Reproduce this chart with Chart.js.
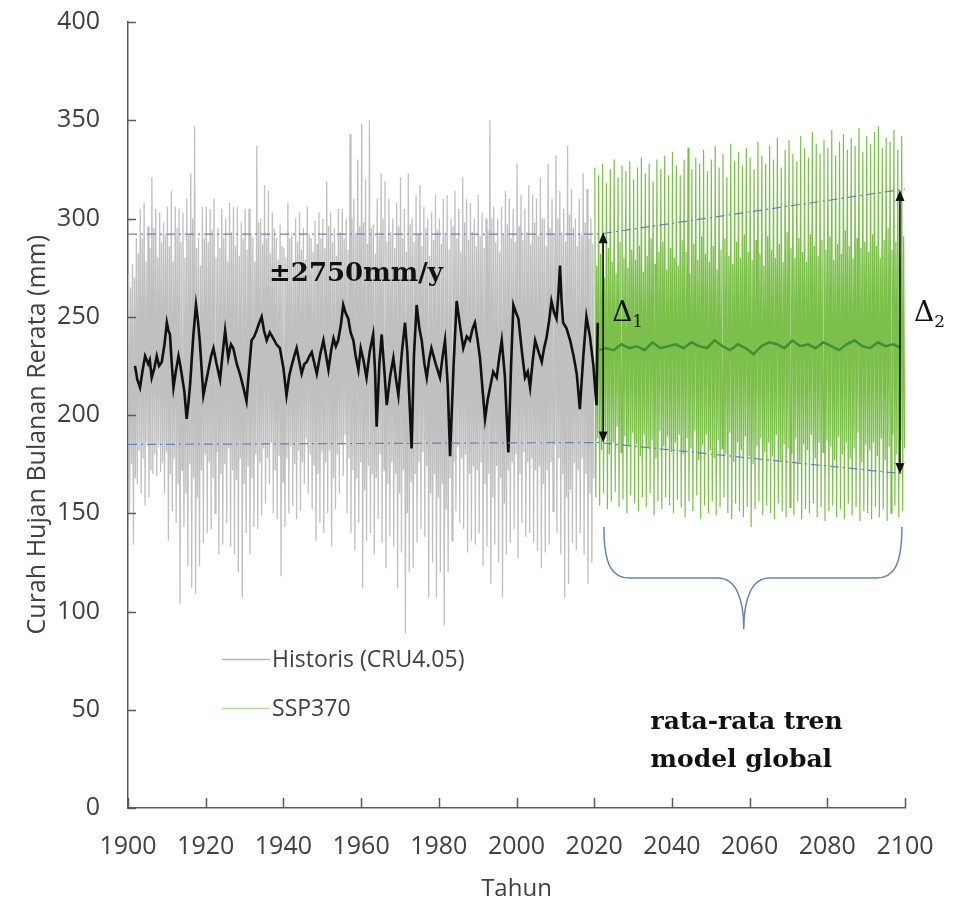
<!DOCTYPE html>
<html>
<head>
<meta charset="utf-8">
<script src="https://cdn.jsdelivr.net/npm/chart.js@4.4.1/dist/chart.umd.min.js"></script>
<style>
  html, body { margin: 0; padding: 0; background: #fff; }
</style>
</head>
<body>
<canvas id="myChart" width="953" height="904"></canvas>
<script>
'use strict';

// historical CRU monthly rainfall (1901-2020)
// each year: main peak / trough, then a second smaller peak / trough
var histFirstYear = 1901;
var histHigh = [
  272, 277, 290, 305, 308, 296, 321, 305, 303, 298,
  306, 314, 306, 305, 303, 310, 323, 347, 290, 306,
  306, 305, 310, 295, 305, 300, 308, 306, 306, 298,
  305, 305, 290, 337, 300, 317, 314, 303, 290, 297,
  285, 308, 292, 300, 303, 295, 306, 290, 299, 303,
  300, 319, 303, 295, 305, 305, 300, 343, 310, 330,
  348, 320, 350, 297, 310, 323, 319, 310, 300, 308,
  321, 305, 323, 300, 312, 317, 306, 300, 303, 312,
  300, 310, 312, 300, 314, 305, 321, 310, 308, 300,
  312, 303, 300, 350, 306, 300, 306, 314, 310, 305,
  328, 312, 305, 317, 312, 310, 321, 300, 328, 310,
  332, 314, 305, 337, 315, 300, 310, 323, 315, 300
];
var histLow = [
  150, 134, 165, 160, 154, 158, 170, 169, 171, 160,
  136, 151, 145, 104, 143, 123, 112, 109, 123, 135,
  140, 142, 150, 129, 134, 145, 133, 129, 120, 107,
  140, 129, 143, 142, 149, 155, 165, 150, 147, 118,
  143, 150, 154, 147, 151, 165, 160, 152, 136, 145,
  140, 150, 133, 152, 160, 169, 150, 140, 131, 145,
  112, 136, 140, 129, 147, 135, 122, 138, 133, 112,
  130, 89, 120, 122, 135, 142, 138, 107, 125, 107,
  120, 93, 120, 136, 151, 145, 142, 130, 136, 134,
  140, 123, 133, 114, 134, 125, 107, 129, 135, 142,
  127, 145, 138, 140, 135, 131, 122, 130, 134, 151,
  140, 129, 107, 114, 135, 131, 140, 129, 114, 125
];
var histHigh2 = [
  265, 270, 282, 290, 278, 285, 295, 280, 288, 292,
  286, 278, 295, 288, 280, 292, 300, 285, 276, 290,
  288, 294, 280, 285, 290, 278, 293, 286, 281, 290,
  284, 292, 278, 298, 287, 290, 282, 295, 279, 286,
  280, 290, 276, 288, 284, 279, 292, 283, 287, 290,
  285, 296, 288, 281, 293, 290, 284, 300, 292, 296,
  298, 287, 295, 282, 291, 300, 288, 293, 285, 296,
  290, 283, 297, 288, 292, 286, 295, 281, 289, 294,
  287, 292, 284, 296, 290, 283, 298, 289, 293, 286,
  291, 285, 294, 300, 288, 283, 292, 297, 290, 288,
  296, 289, 293, 287, 298, 291, 300, 286, 295, 292,
  300, 293, 288, 302, 295, 286, 292, 298, 290, 287
];
var histLow2 = [
  175, 168, 182, 178, 186, 172, 180, 184, 176, 181,
  170, 178, 165, 172, 160, 175, 168, 158, 172, 180,
  176, 168, 181, 170, 175, 183, 172, 167, 178, 165,
  174, 168, 180, 176, 183, 178, 186, 172, 179, 166,
  178, 184, 175, 182, 176, 188, 180, 174, 170, 181,
  176, 182, 168, 180, 185, 190, 178, 172, 168, 176,
  162, 174, 170, 168, 180, 172, 165, 176, 170, 160,
  172, 150, 166, 170, 176, 181, 174, 160, 170, 158,
  165, 152, 168, 176, 184, 178, 180, 170, 174, 172,
  176, 165, 170, 158, 174, 168, 155, 172, 176, 180,
  170, 181, 176, 178, 172, 174, 165, 172, 176, 185,
  178, 170, 158, 162, 176, 172, 178, 170, 160, 168
];

// black running mean of the historical series
var histMeanYears = [
  1901.8, 1902.4, 1903.1, 1903.7, 1904.4, 1905.2, 1905.6, 1906.1, 1906.8, 1907.4,
  1908.0, 1908.7, 1909.4, 1910.0, 1910.4, 1910.8, 1911.2, 1911.7, 1912.3, 1913.0,
  1913.4, 1913.8, 1914.5, 1915.1, 1915.6, 1916.0, 1916.8, 1917.5, 1918.0, 1918.5,
  1919.0, 1919.4, 1920.0, 1920.7, 1921.4, 1922.0, 1922.8, 1923.7, 1924.4, 1925.0,
  1925.8, 1926.5, 1927.1, 1928.0, 1928.8, 1929.7, 1930.5, 1931.2, 1931.8, 1932.5,
  1933.1, 1933.8, 1934.4, 1935.0, 1935.7, 1936.5, 1937.4, 1938.2, 1939.1, 1940.0,
  1940.8, 1941.5, 1942.1, 1942.8, 1943.4, 1944.0, 1944.7, 1945.4, 1946.0, 1946.7,
  1947.3, 1948.0, 1948.6, 1949.5, 1950.3, 1951.0, 1951.6, 1952.3, 1952.9, 1953.5,
  1954.1, 1954.8, 1955.4, 1956.0, 1956.7, 1957.3, 1958.0, 1958.6, 1959.3, 1959.9,
  1960.6, 1961.4, 1962.2, 1963.1, 1963.6, 1964.0, 1964.7, 1965.3, 1966.0, 1966.6,
  1967.5, 1968.3, 1969.0, 1969.6, 1970.5, 1971.3, 1971.9, 1972.5, 1973.0, 1973.6,
  1974.3, 1975.0, 1975.6, 1976.3, 1976.9, 1977.5, 1978.1, 1979.2, 1980.3, 1981.0,
  1981.6, 1982.3, 1982.9, 1983.8, 1984.6, 1985.5, 1986.3, 1987.2, 1988.0, 1988.7,
  1989.3, 1990.0, 1990.6, 1991.3, 1991.9, 1992.6, 1993.2, 1994.0, 1994.9, 1995.6,
  1996.2, 1997.0, 1997.9, 1998.6, 1999.2, 1999.9, 2000.5, 2001.4, 2002.2, 2002.9,
  2003.5, 2004.2, 2004.8, 2005.7, 2006.5, 2007.1, 2007.7, 2008.4, 2009.0, 2009.7,
  2010.3, 2010.8, 2011.2, 2011.6, 2012.0, 2012.9, 2013.8, 2014.7, 2015.5, 2016.0,
  2016.3, 2017.2, 2018.0, 2018.9, 2019.8, 2020.3, 2020.6, 2020.9
];
var histMean = [
  225, 218, 214, 222, 230, 226, 228, 219, 224, 230,
  225, 227, 236, 247, 243, 241, 228, 214, 222, 230,
  226, 221, 212, 198, 207, 216, 240, 256, 248, 237,
  222, 210, 216, 223, 230, 234, 226, 218, 232, 243,
  229, 236, 234, 226, 221, 214, 207, 224, 238, 240,
  243, 247, 250, 243, 238, 242, 239, 236, 234, 224,
  210, 220, 225, 230, 234, 228, 221, 226, 227, 230,
  232, 226, 221, 231, 238, 230, 223, 233, 239, 235,
  238, 246, 256, 252, 249, 242, 238, 230, 223, 234,
  228, 219, 232, 241, 222, 194, 226, 241, 222, 205,
  220, 229, 218, 210, 232, 247, 232, 205, 183, 230,
  256, 244, 238, 226, 219, 228, 234, 226, 219, 230,
  238, 215, 179, 225, 258, 245, 234, 240, 238, 244,
  247, 238, 229, 212, 198, 208, 214, 222, 219, 230,
  238, 220, 181, 225, 256, 252, 249, 232, 219, 222,
  214, 228, 238, 232, 227, 234, 239, 248, 258, 252,
  249, 262, 276, 258, 247, 244, 238, 230, 221, 210,
  203, 230, 250, 240, 225, 212, 205, 247
];

// SSP370 projection (2021-2100), same layout as the historical arrays
var sspFirstYear = 2021;
var sspHigh = [
  326, 322, 328, 318, 325, 330, 321, 327, 324, 329,
  320, 326, 331, 323, 328, 319, 330, 325, 332, 322,
  334, 327, 322, 330, 336, 325, 331, 328, 335, 324,
  330, 337, 326, 333, 321, 338, 329, 334, 327, 336,
  331, 325, 339, 332, 328, 337, 330, 341, 326, 335,
  340, 333, 329, 342, 336, 331, 344, 338, 333, 340,
  336, 345, 332, 339, 343, 335, 341, 337, 346, 334,
  342, 338, 344, 347, 336, 341, 339, 345, 335, 342
];
var sspLow = [
  158, 154, 160, 152, 156, 161, 153, 157, 150, 159,
  155, 151, 158, 153, 160, 149, 156, 152, 158, 154,
  150, 157, 153, 148, 156, 151, 159, 147, 154, 150,
  156, 149, 153, 158, 150, 147, 155, 151, 148, 153,
  143, 152, 156, 149, 154, 150, 147, 155, 151, 148,
  153, 149, 156, 147, 152, 150, 155, 148, 153, 146,
  151, 154, 148, 152, 147, 155, 149, 153, 146, 151,
  150, 147, 153, 148, 152, 146, 150, 154, 148, 151
];
var sspHigh2 = [
  276, 282, 270, 285, 278, 272, 288, 280, 275, 284,
  279, 286, 273, 281, 290, 277, 283, 288, 274, 285,
  280, 276, 289, 283, 272, 287, 279, 291, 282, 278,
  286, 274, 284, 290, 281, 277, 288, 280, 292, 283,
  279, 289, 282, 276, 291, 284, 280, 287, 278, 293,
  285, 280, 290, 283, 278, 292, 286, 281, 289, 284,
  291, 279, 287, 282, 294, 286, 280, 290, 285, 288,
  283, 292, 286, 280, 289, 295, 284, 288, 282, 291
];
var sspLow2 = [
  188, 182, 192, 180, 186, 194, 181, 189, 184, 191,
  185, 179, 190, 183, 187, 178, 192, 184, 189, 181,
  186, 190, 180, 188, 183, 192, 177, 185, 190, 182,
  178, 187, 183, 180, 191, 176, 186, 182, 189, 179,
  175, 184, 188, 181, 186, 179, 190, 177, 185, 183,
  180, 188, 176, 185, 182, 190, 178, 186, 181, 187,
  184, 177, 189, 180, 186, 178, 183, 191, 176, 185,
  182, 186, 179, 188, 177, 184, 190, 180, 187, 183
];
// dark green ensemble mean, every second year from 2021
var sspMean = [
  233, 234, 233, 236, 234, 235, 233, 237, 234, 235,
  236, 234, 237, 235, 234, 238, 235, 233, 236, 234,
  231, 235, 237, 236, 234, 238, 235, 236, 234, 237,
  235, 233, 236, 238, 235, 234, 237, 235, 236, 234
];

// dashed envelope lines
var upperEnvYears = [1900, 2021, 2100, 2109];
var upperEnv = [292, 292, 315, 318];
var lowerEnvYears = [1900, 2021, 2100, 2105];
var lowerEnv = [185, 186, 170, 168];

// delta arrows
var deltaYears = [2022.3, 2098.7];
var deltaTop = [293, 314.5];
var deltaBottom = [186, 170];
var deltaNames = ['1', '2'];

var yearTicks = [1900, 2100, 20];
var valueTicks = [0, 400, 50];

function zip(xs, ys) {
  var out = [];
  for (var i = 0; i < xs.length; i++) {
    out.push({ x: xs[i], y: ys[i] });
  }
  return out;
}

function zigzag(first, hi, lo, hi2, lo2) {
  var out = [];
  for (var i = 0; i < hi.length; i++) {
    var yr = first + i - 1;
    out.push({ x: yr + 0.15, y: hi[i] });
    out.push({ x: yr + 0.4, y: lo[i] });
    out.push({ x: yr + 0.65, y: hi2[i] });
    out.push({ x: yr + 0.9, y: lo2[i] });
  }
  return out;
}

var histPoints = zigzag(histFirstYear, histHigh, histLow, histHigh2, histLow2);
var sspPoints = zigzag(sspFirstYear, sspHigh, sspLow, sspHigh2, sspLow2);
var sspMeanYears = [];
for (var k = 0; k < sspMean.length; k++) {
  sspMeanYears.push(sspFirstYear + k * 2);
}

var lineBase = { pointRadius: 0, pointHoverRadius: 0, tension: 0, fill: false };

var datasets = [
  Object.assign({}, lineBase, { label: 'upperEnv', data: zip(upperEnvYears, upperEnv), borderColor: '#6283b5', borderWidth: 1.2, borderDash: [9, 4, 2, 4], clip: false, order: 0 }),
  Object.assign({}, lineBase, { label: 'lowerEnv', data: zip(lowerEnvYears, lowerEnv), borderColor: '#6283b5', borderWidth: 1.2, borderDash: [9, 4, 2, 4], clip: false, order: 0 }),
  Object.assign({}, lineBase, { label: 'sspMean', data: zip(sspMeanYears, sspMean), borderColor: '#3f8f35', borderWidth: 2.5, order: 1 }),
  Object.assign({}, lineBase, { label: 'histMean', data: zip(histMeanYears, histMean), borderColor: '#111111', borderWidth: 2.6, order: 2 }),
  Object.assign({}, lineBase, { label: 'SSP370', data: sspPoints, borderColor: '#7cc04b', borderWidth: 1.2, order: 3 }),
  Object.assign({}, lineBase, { label: 'Historis (CRU4.05)', data: histPoints, borderColor: '#c0c0c0', borderWidth: 1.3, order: 4 })
];

var axisColor = '#5a5a5a';
var textColor = '#404040';
var sansFont = '"Open Sans", "Noto Sans", sans-serif';

var extras = {
  id: 'extras',
  afterDraw: function (chart) {
    var ctx = chart.ctx;
    var xs = chart.scales.x;
    var ys = chart.scales.y;
    var area = chart.chartArea;
    ctx.save();

    // inward tick marks
    ctx.strokeStyle = axisColor;
    ctx.lineWidth = 1.5;
    ctx.beginPath();
    for (var v = valueTicks[0]; v <= valueTicks[1]; v += valueTicks[2]) {
      var py = Math.round(ys.getPixelForValue(v)) + 0.5;
      ctx.moveTo(area.left, py);
      ctx.lineTo(area.left + 8, py);
    }
    for (var yr = yearTicks[0]; yr <= yearTicks[1]; yr += yearTicks[2]) {
      var px = Math.round(xs.getPixelForValue(yr)) + 0.5;
      ctx.moveTo(px, area.bottom);
      ctx.lineTo(px, area.bottom - 10);
    }
    ctx.stroke();

    // delta arrows
    ctx.strokeStyle = '#111';
    ctx.fillStyle = '#111';
    ctx.lineWidth = 1.6;
    for (var d = 0; d < deltaYears.length; d++) {
      var ax = xs.getPixelForValue(deltaYears[d]);
      var at = ys.getPixelForValue(deltaTop[d]);
      var ab = ys.getPixelForValue(deltaBottom[d]);
      ctx.beginPath();
      ctx.moveTo(ax, at + 8);
      ctx.lineTo(ax, ab - 8);
      ctx.stroke();
      ctx.beginPath();
      ctx.moveTo(ax, at);
      ctx.lineTo(ax - 4.5, at + 11);
      ctx.lineTo(ax + 4.5, at + 11);
      ctx.closePath();
      ctx.fill();
      ctx.beginPath();
      ctx.moveTo(ax, ab);
      ctx.lineTo(ax - 4.5, ab - 11);
      ctx.lineTo(ax + 4.5, ab - 11);
      ctx.closePath();
      ctx.fill();

      var tx = ax + (d === 0 ? 9 : 14);
      var ty = ys.getPixelForValue(248);
      ctx.textBaseline = 'alphabetic';
      ctx.textAlign = 'left';
      ctx.font = '28px "DejaVu Serif"';
      ctx.fillText('\u0394', tx, ty);
      var dw = ctx.measureText('\u0394').width;
      ctx.font = '17px "DejaVu Serif"';
      ctx.fillText(deltaNames[d], tx + dw, ty + 6);
    }

    // brace under the projection
    var bl = xs.getPixelForValue(2022.5);
    var br = xs.getPixelForValue(2099.2);
    var bc = xs.getPixelForValue(2058.5);
    var bt = ys.getPixelForValue(143);
    var bm = ys.getPixelForValue(117);
    var bp = ys.getPixelForValue(91);
    ctx.strokeStyle = '#6684b6';
    ctx.lineWidth = 1.5;
    ctx.beginPath();
    ctx.moveTo(bl, bt);
    ctx.bezierCurveTo(bl, bt + 38, bl + 8, bm, bl + 26, bm);
    ctx.lineTo(bc - 26, bm);
    ctx.bezierCurveTo(bc - 8, bm, bc, bm + 20, bc, bp);
    ctx.bezierCurveTo(bc, bm + 20, bc + 8, bm, bc + 26, bm);
    ctx.lineTo(br - 26, bm);
    ctx.bezierCurveTo(br - 8, bm, br, bt + 38, br, bt);
    ctx.stroke();

    // bold annotations
    ctx.fillStyle = '#111';
    ctx.font = 'bold 26px "DejaVu Serif"';
    ctx.textAlign = 'left';
    ctx.fillText('\u00b12750mm/y', xs.getPixelForValue(1936.3), ys.getPixelForValue(268));
    ctx.font = 'bold 25px "DejaVu Serif"';
    ctx.fillText('rata-rata tren', xs.getPixelForValue(2034.5), ys.getPixelForValue(40));
    ctx.fillText('model global', xs.getPixelForValue(2034.5), ys.getPixelForValue(21));

    // legend
    var legendItems = [
      { text: 'Historis (CRU4.05)', color: '#b3b3b3', value: 76 },
      { text: 'SSP370', color: '#b7d99b', value: 51 }
    ];
    ctx.font = '23px ' + sansFont;
    ctx.textBaseline = 'middle';
    legendItems.forEach(function (item) {
      var ly = Math.round(ys.getPixelForValue(item.value)) + 0.5;
      var lx = xs.getPixelForValue(1924.2);
      ctx.strokeStyle = item.color;
      ctx.lineWidth = 1.5;
      ctx.beginPath();
      ctx.moveTo(lx, ly);
      ctx.lineTo(lx + 48, ly);
      ctx.stroke();
      ctx.fillStyle = textColor;
      ctx.fillText(item.text, lx + 50, ly + 1);
    });

    // y axis title, a little below the middle of the axis as in the reference
    ctx.save();
    ctx.translate(38, ys.getPixelForValue(190));
    ctx.rotate(-Math.PI / 2);
    ctx.font = '25px ' + sansFont;
    ctx.fillStyle = textColor;
    ctx.textAlign = 'center';
    ctx.textBaseline = 'middle';
    ctx.fillText('Curah Hujan Bulanan Rerata (mm)', 0, 0);
    ctx.restore();

    ctx.restore();
  }
};

// transparent tick marks only push the labels away from the axis
var hiddenGrid = function (len) {
  return { display: true, drawOnChartArea: false, drawTicks: true, tickLength: len, color: 'rgba(0,0,0,0)' };
};

var ctx = document.getElementById('myChart').getContext('2d');
var rainChart = new Chart(ctx, {
  type: 'line',
  data: { datasets: datasets },
  options: {
    responsive: false,
    animation: false,
    normalized: true,
    layout: { padding: { left: 0, top: 22, right: 48, bottom: 0 } },
    plugins: {
      legend: { display: false },
      tooltip: { enabled: false }
    },
    scales: {
      x: {
        type: 'linear',
        min: yearTicks[0],
        max: yearTicks[1],
        afterFit: function (scale) { scale.height = 96; },
        grid: hiddenGrid(21),
        border: { display: true, color: axisColor, width: 1.5 },
        ticks: {
          stepSize: yearTicks[2],
          autoSkip: false,
          maxRotation: 0,
          padding: 3,
          color: textColor,
          font: { family: sansFont, size: 25 },
          callback: function (v) { return String(v); }
        },
        title: {
          display: true,
          text: 'Tahun',
          color: textColor,
          padding: { top: 0, bottom: 0 },
          font: { family: sansFont, size: 24 }
        }
      },
      y: {
        type: 'linear',
        min: valueTicks[0],
        max: valueTicks[1],
        afterFit: function (scale) { scale.width = 128; },
        grid: hiddenGrid(25),
        border: { display: true, color: axisColor, width: 1.5 },
        ticks: {
          stepSize: valueTicks[2],
          padding: 3,
          color: textColor,
          font: { family: sansFont, size: 25 }
        }
      }
    }
  },
  plugins: [extras]
});

// pin the plot area to where the reference has it
for (var pass = 0; pass < 3; pass++) {
  var ca = rainChart.chartArea;
  var pad = rainChart.options.layout.padding;
  var dTop = 22 - ca.top;
  var dRight = ca.right - 905;
  if (Math.abs(dTop) < 0.5 && Math.abs(dRight) < 0.5) break;
  pad.top += dTop;
  pad.right += dRight;
  rainChart.update();
}
</script>
</body>
</html>
